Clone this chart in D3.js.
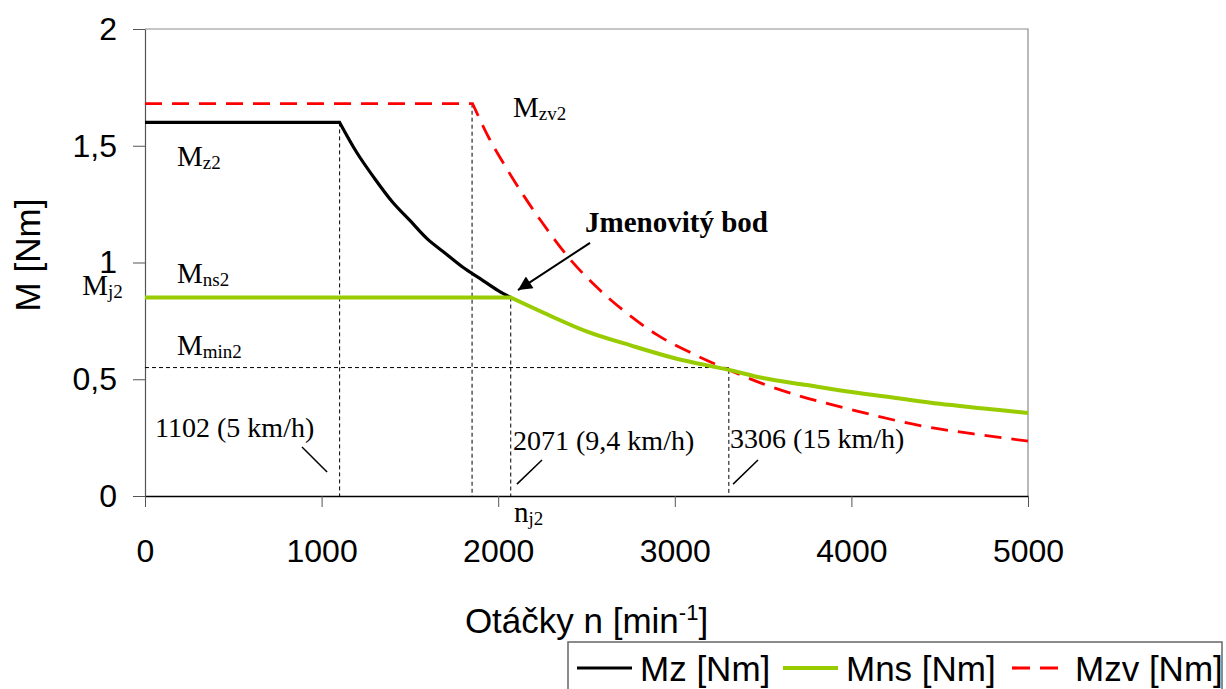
<!DOCTYPE html>
<html lang="cs">
<head>
<meta charset="UTF-8">
<title>Momentová charakteristika</title>
<script src="https://cdn.jsdelivr.net/npm/d3@7/dist/d3.min.js"></script>
<style>
  body { margin: 0; background: #fff; }
  .sans { font-family: "Liberation Sans", Arial, sans-serif; }
  .serif { font-family: "Liberation Serif", "Times New Roman", serif; }
</style>
</head>
<body>
<svg id="chart" width="1226" height="689"></svg>
<script>
// --- data ---
var xTicks = [0, 1000, 2000, 3000, 4000, 5000];
var yTicks = [0, 0.5, 1, 1.5, 2];

// Mz [Nm] (black)
var nMz = [0, 1102, 1200, 1300, 1400, 1500, 1600, 1700, 1800, 1900, 2000, 2071];
var valMz = [1.60, 1.60, 1.47, 1.36, 1.26, 1.18, 1.10, 1.04, 0.98, 0.93, 0.88, 0.85];

// Mns [Nm] (green)
var nMns = [0, 2071, 2300, 2500, 2750, 3000, 3306, 3500, 3750, 4000, 4250, 4500, 4750, 5000];
var valMns = [0.85, 0.85, 0.77, 0.705, 0.645, 0.59, 0.54, 0.505, 0.475, 0.445, 0.42, 0.395, 0.375, 0.355];

// Mzv [Nm] (red dashed)
var nMzv = [0, 1855, 1950, 2050, 2150, 2250, 2400, 2550, 2700, 2900, 3100, 3306, 3500, 3700, 4000, 4400, 4750, 5000];
var valMzv = [1.68, 1.68, 1.53, 1.40, 1.28, 1.17, 1.02, 0.90, 0.80, 0.69, 0.61, 0.54, 0.48, 0.43, 0.37, 0.30, 0.26, 0.235];

// guide points (vertical dashed lines) and Mmin2 level
var guideN = [1102, 1852, 2071, 3306];
var guideM = [1.60, 1.68, 0.85, 0.54];
var mMin2 = 0.55;

var legendNames = ["Mz [Nm]", "Mns [Nm]", "Mzv [Nm]"];
var colors = ["#000000", "#99cc00", "#ff0000"];

// --- layout ---
var svg = d3.select("#chart");
var pLeft = 145, pRight = 1028, pTop = 29, pBottom = 496;

var x = d3.scaleLinear().domain([0, 5000]).range([pLeft, pRight]);
var y = d3.scaleLinear().domain([0, 2]).range([pBottom, pTop]);

// plot frame (top / right)
svg.append("path")
  .attr("d", "M" + pLeft + "," + pTop + "H" + pRight + "V" + pBottom)
  .attr("fill", "none")
  .attr("stroke", "#8c8c8c")
  .attr("stroke-width", 1.2);

// axes
var xAxis = svg.append("g")
  .attr("class", "sans")
  .attr("transform", "translate(0," + pBottom + ")")
  .call(d3.axisBottom(x).tickValues(xTicks).tickSize(11).tickSizeOuter(0).tickPadding(32).tickFormat(d3.format("d")));
xAxis.select(".domain").attr("stroke", "#000").attr("stroke-width", 1.5);
xAxis.selectAll(".tick line").attr("stroke", "#555");
xAxis.selectAll("text").attr("font-size", 32).attr("fill", "#000");

var yAxis = svg.append("g")
  .attr("class", "sans")
  .attr("transform", "translate(" + pLeft + ",0)")
  .call(d3.axisLeft(y).tickValues(yTicks).tickSize(12).tickSizeOuter(0).tickPadding(16)
    .tickFormat(function(d) { return String(d).replace(".", ","); }));
yAxis.select(".domain").attr("stroke", "#555").attr("stroke-width", 1.2);
yAxis.selectAll(".tick line").attr("stroke", "#555");
yAxis.selectAll("text").attr("font-size", 32).attr("fill", "#000");

// axis titles
var xt = svg.append("text")
  .attr("class", "sans")
  .attr("x", (pLeft + pRight) / 2)
  .attr("y", 633)
  .attr("text-anchor", "middle")
  .attr("font-size", 35);
xt.append("tspan").text("Otáčky n [min");
xt.append("tspan").attr("font-size", 22).attr("dy", -13).text("-1");
xt.append("tspan").attr("dy", 13).text("]");

svg.append("text")
  .attr("class", "sans")
  .attr("transform", "translate(40," + 255 + ") rotate(-90)")
  .attr("text-anchor", "middle")
  .attr("font-size", 35)
  .text("M [Nm]");

// guide lines
var guides = svg.append("g")
  .attr("stroke", "#000")
  .attr("stroke-width", 1)
  .attr("stroke-dasharray", "4,3");

guides.selectAll("line.v")
  .data(guideN)
  .enter()
  .append("line")
  .attr("class", "v")
  .attr("x1", function(d) { return x(d); })
  .attr("x2", function(d) { return x(d); })
  .attr("y1", function(d, i) { return y(guideM[i]); })
  .attr("y2", y(0));

guides.append("line")
  .attr("x1", x(0))
  .attr("x2", x(3306))
  .attr("y1", y(mMin2))
  .attr("y2", y(mMin2));

// curves: flat part straight, falling part smooth (sharp corner between)
function series(ns, vals) {
  return ns.map(function(n, i) { return [n, vals[i]]; });
}
var smooth = d3.line()
  .curve(d3.curveMonotoneX)
  .x(function(d) { return x(d[0]); })
  .y(function(d) { return y(d[1]); });

function curvePath(ns, vals) {
  var pts = series(ns, vals);
  var flat = pts.slice(0, 2);
  var fall = pts.slice(1);
  var fallPath = smooth(fall);
  return "M" + x(flat[0][0]) + "," + y(flat[0][1]) + "L" + fallPath.slice(1);
}

svg.append("path")
  .attr("d", curvePath(nMzv, valMzv))
  .attr("fill", "none")
  .attr("stroke", colors[2])
  .attr("stroke-width", 2.8)
  .attr("stroke-dasharray", "17,10");

svg.append("path")
  .attr("d", curvePath(nMz, valMz))
  .attr("fill", "none")
  .attr("stroke", colors[0])
  .attr("stroke-width", 3.2);

svg.append("path")
  .attr("d", curvePath(nMns, valMns))
  .attr("fill", "none")
  .attr("stroke", colors[1])
  .attr("stroke-width", 4);

// symbol labels (serif, with subscripts)
var symLabels = [
  { n: 181, m: 1.413, main: "M", sub: "z2" },
  { n: 181, m: 0.912, main: "M", sub: "ns2" },
  { n: 181, m: 0.604, main: "M", sub: "min2" },
  { n: 2084, m: 1.623, main: "M", sub: "zv2" },
  { n: -356, m: 0.861, main: "M", sub: "j2" },
  { n: 2090, m: -0.111, main: "n", sub: "j2" }
];
symLabels.forEach(function(s) {
  var t = svg.append("text")
    .attr("class", "serif")
    .attr("x", x(s.n))
    .attr("y", y(s.m))
    .attr("font-size", 29);
  t.append("tspan").text(s.main);
  t.append("tspan").attr("font-size", 19).attr("dy", 3).text(s.sub);
});

// speed labels
var speedLabels = [
  { n: 57, m: 0.253, text: "1102 (5 km/h)" },
  { n: 2084, m: 0.197, text: "2071 (9,4 km/h)" },
  { n: 3313, m: 0.206, text: "3306 (15 km/h)" }
];
svg.selectAll("text.speed")
  .data(speedLabels)
  .enter()
  .append("text")
  .attr("class", "serif speed")
  .attr("x", function(d) { return x(d.n); })
  .attr("y", function(d) { return y(d.m); })
  .attr("font-size", 28)
  .text(function(d) { return d.text; });

// small leader strokes
var leaders = [
  { n1: 889, m1: 0.210, n2: 1031, m2: 0.103 },
  { n1: 2248, m1: 0.154, n2: 2106, m2: 0.051 },
  { n1: 3471, m1: 0.154, n2: 3330, m2: 0.051 }
];
svg.selectAll("line.leader")
  .data(leaders)
  .enter()
  .append("line")
  .attr("class", "leader")
  .attr("x1", function(d) { return x(d.n1); })
  .attr("y1", function(d) { return y(d.m1); })
  .attr("x2", function(d) { return x(d.n2); })
  .attr("y2", function(d) { return y(d.m2); })
  .attr("stroke", "#000")
  .attr("stroke-width", 1.5);

// rated point annotation
svg.append("defs").append("marker")
  .attr("id", "arrow")
  .attr("viewBox", "0 0 10 10")
  .attr("refX", 10)
  .attr("refY", 5)
  .attr("markerWidth", 9)
  .attr("markerHeight", 7)
  .attr("markerUnits", "strokeWidth")
  .attr("orient", "auto")
  .append("path")
  .attr("d", "M0,0L10,5L0,10z")
  .attr("fill", "#000");

svg.append("line")
  .attr("x1", x(2520))
  .attr("y1", y(1.084))
  .attr("x2", x(2112))
  .attr("y2", y(0.882))
  .attr("stroke", "#000")
  .attr("stroke-width", 2)
  .attr("marker-end", "url(#arrow)");

svg.append("text")
  .attr("class", "serif")
  .attr("x", x(2492))
  .attr("y", y(1.13))
  .attr("font-size", 29)
  .attr("font-weight", "bold")
  .text("Jmenovitý bod");

// legend
var legend = svg.append("g").attr("class", "sans");
legend.append("rect")
  .attr("x", 568)
  .attr("y", 642)
  .attr("width", 654)
  .attr("height", 60)
  .attr("fill", "none")
  .attr("stroke", "#666")
  .attr("stroke-width", 1.5);

var legX = [577, 783, 1012];
legendNames.forEach(function(name, i) {
  legend.append("line")
    .attr("x1", legX[i])
    .attr("x2", legX[i] + 55)
    .attr("y1", 668)
    .attr("y2", 668)
    .attr("stroke", colors[i])
    .attr("stroke-width", i == 1 ? 4 : 3.2)
    .attr("stroke-dasharray", i == 2 ? "18,10" : null);
  legend.append("text")
    .attr("x", legX[i] + 63)
    .attr("y", 681)
    .attr("font-size", 35)
    .text(name);
});
</script>
</body>
</html>
